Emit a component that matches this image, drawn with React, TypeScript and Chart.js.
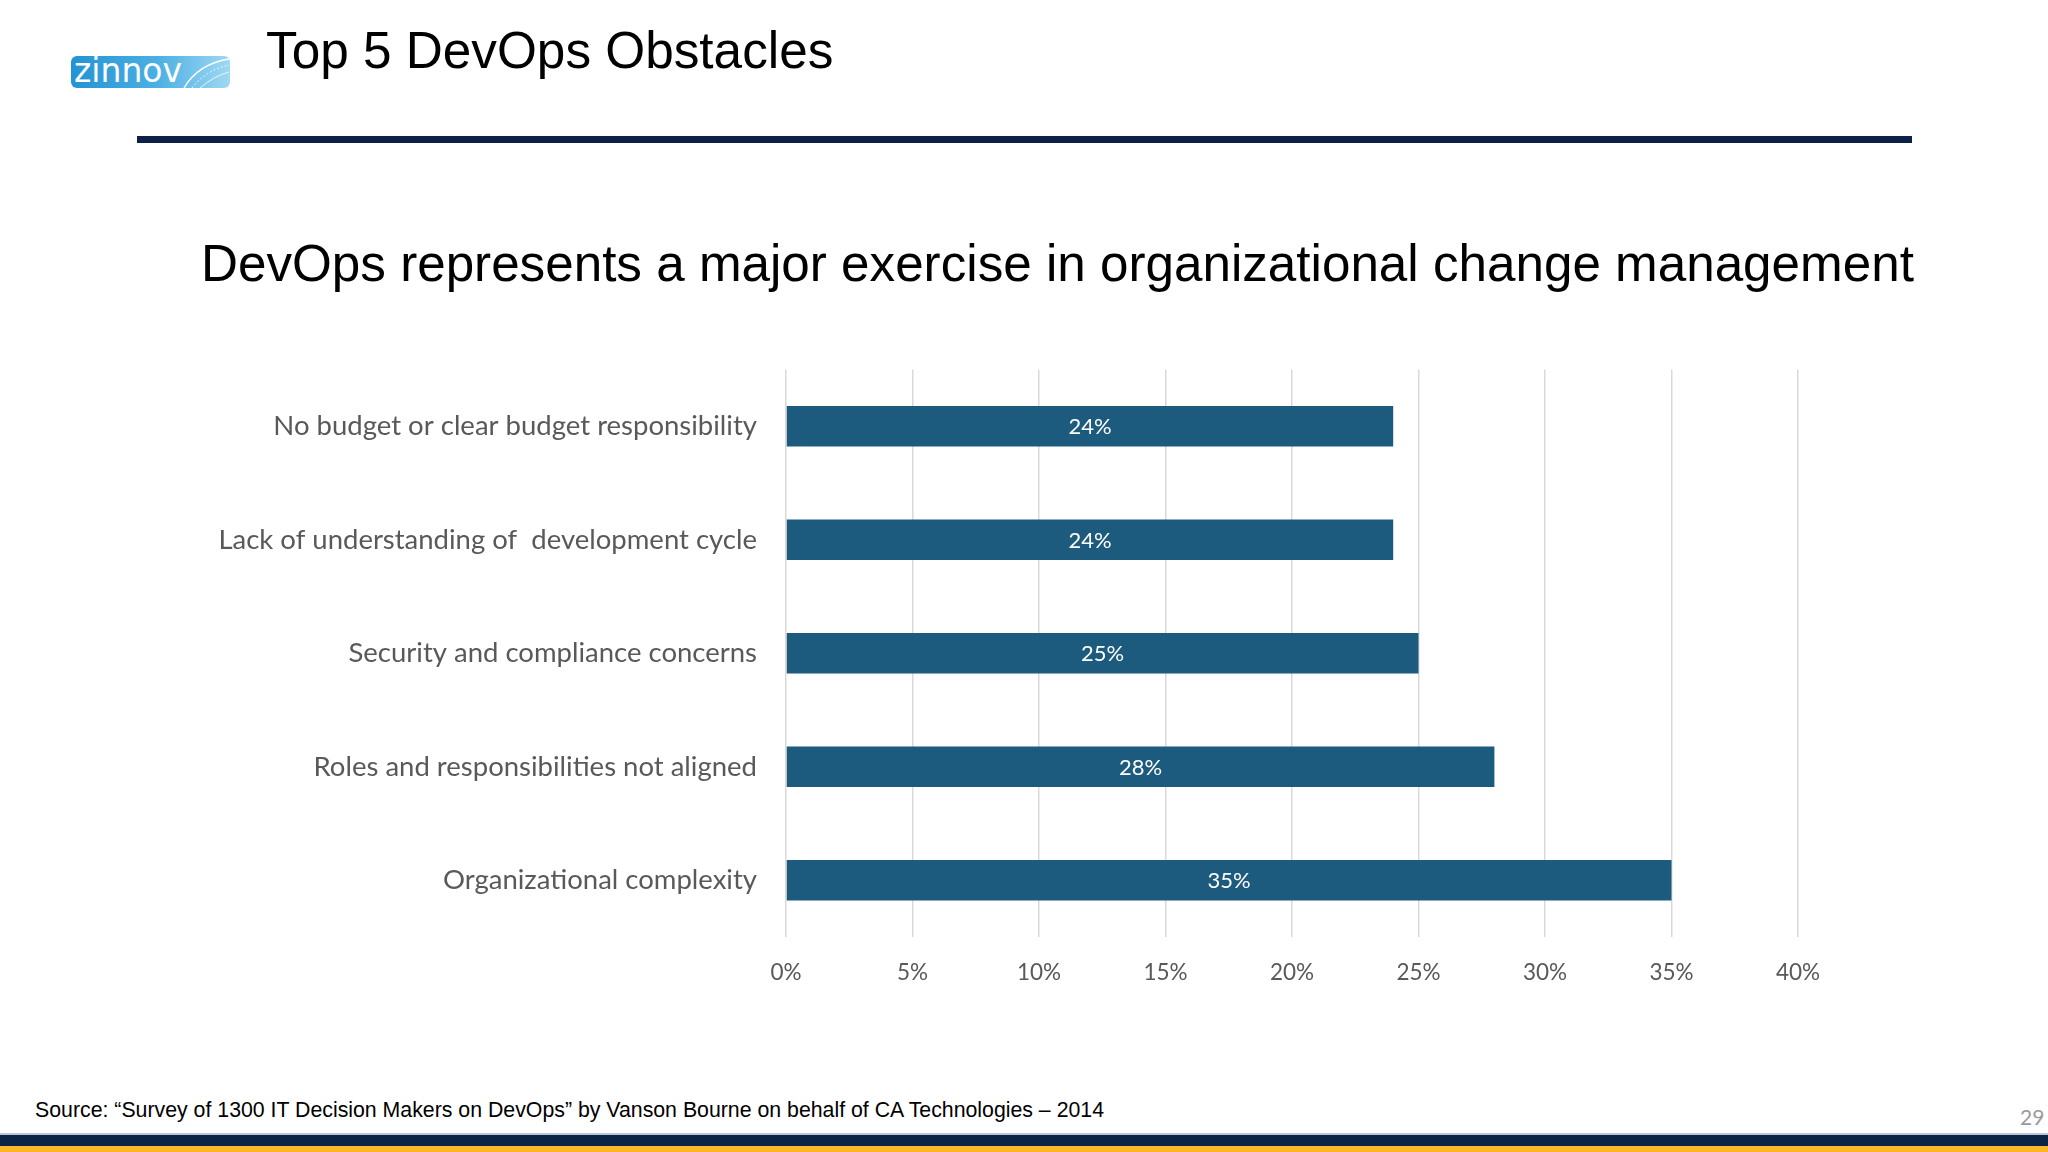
import React, { useEffect, useRef } from "react";
import { Chart, registerables } from "chart.js";

Chart.register(...registerables);

const categories: string[] = [
  "No budget or clear budget responsibility",
  "Lack of understanding of  development cycle",
  "Security and compliance concerns",
  "Roles and responsibilities not aligned",
  "Organizational complexity",
];
const values: number[] = [24, 24, 25, 28, 35];
const xTicks: number[] = [0, 5, 10, 15, 20, 25, 30, 35, 40];

const BAR_COLOR = "#1c5a7e";
const TEXT_GRAY = "#595959";
const LABEL_FONT = "Lato, 'Open Sans', sans-serif";

const dataLabelPlugin = {
  id: "barLabels",
  afterDatasetsDraw(chart: any) {
    const ctx = chart.ctx;
    const meta = chart.getDatasetMeta(0);
    ctx.save();
    ctx.fillStyle = "#ffffff";
    ctx.font = `22px ${LABEL_FONT}`;
    ctx.textAlign = "center";
    ctx.textBaseline = "middle";
    meta.data.forEach((bar: any, i: number) => {
      const p = bar.getProps(["x", "y", "base"], true);
      ctx.fillText(values[i] + "%", (p.x + p.base) / 2, p.y + 1);
    });
    ctx.restore();
  },
};

// Chart.js adds the y tick padding (29) plus half a label height (~16.5)
// above the first category, so the canvas starts that far above the plot top.
const CANVAS_TOP = 324;
const CANVAS_BOTTOM = 1020;

function BarChart() {
  const ref = useRef<HTMLCanvasElement | null>(null);
  useEffect(() => {
    if (!ref.current) return;
    const chart = new Chart(ref.current, {
      type: "bar",
      data: {
        labels: categories,
        datasets: [
          {
            data: values,
            backgroundColor: BAR_COLOR,
            borderWidth: 0,
            barPercentage: 0.355,
            categoryPercentage: 1,
          },
        ],
      },
      options: {
        indexAxis: "y",
        animation: false,
        responsive: true,
        maintainAspectRatio: false,
        devicePixelRatio: 1,
        layout: { padding: { top: 0, right: 250, bottom: 0, left: 0 } },
        plugins: {
          legend: { display: false },
          tooltip: { enabled: false },
          title: { display: false },
        },
        scales: {
          x: {
            min: 0,
            max: 40,
            afterBuildTicks: (scale: any) => {
              scale.ticks = xTicks.map((v) => ({ value: v }));
            },
            afterFit: (scale: any) => {
              scale.height = 83;
            },
            grid: { color: "#d9d9d9", lineWidth: 1.5, drawTicks: false },
            border: { display: false },
            ticks: {
              padding: 22,
              color: TEXT_GRAY,
              font: { family: LABEL_FONT, size: 22.5 },
              callback: (v: any) => v + "%",
            },
          },
          y: {
            afterFit: (scale: any) => {
              scale.width = 786;
            },
            grid: { display: false, drawTicks: false },
            border: { display: false },
            ticks: {
              padding: 29,
              color: TEXT_GRAY,
              font: { family: LABEL_FONT, size: 27.5 },
            },
          },
        },
      },
      plugins: [dataLabelPlugin],
    });
    return () => chart.destroy();
  }, []);
  return (
    <div style={{ position: "absolute", left: 0, top: CANVAS_TOP, width: 2048, height: CANVAS_BOTTOM - CANVAS_TOP }}>
      <canvas ref={ref} />
    </div>
  );
}

function Logo() {
  return (
    <svg width={160} height={33} style={{ position: "absolute", left: 71, top: 56 }}>
      <defs>
        <linearGradient id="lg" x1="0" y1="0" x2="1" y2="0">
          <stop offset="0" stopColor="#2393d3" />
          <stop offset="0.55" stopColor="#4cb0e3" />
          <stop offset="1" stopColor="#9fd8f3" />
        </linearGradient>
      </defs>
      <rect x={0} y={0} width={159} height={32} rx={6} fill="url(#lg)" />
      <text x={3} y={26} fill="#ffffff" fontFamily="'DejaVu Sans', Verdana, sans-serif" fontSize={33}>
        zinnov
      </text>
      <path d="M113 32 Q127 8 158 3" stroke="#ffffff" strokeWidth={1.3} fill="none" />
      <path d="M121 32 Q135 14 158 9" stroke="#ffffff" strokeWidth={0.8} fill="none" strokeDasharray="2 2" />
      <path d="M129 32 Q143 20 158 16" stroke="#ffffff" strokeWidth={0.8} fill="none" />
    </svg>
  );
}

export default function App() {
  useEffect(() => {
    document.body.style.margin = "0";
  }, []);
  return (
    <div
      style={{
        position: "fixed",
        left: 0,
        top: 0,
        width: 2048,
        height: 1152,
        background: "#ffffff",
        overflow: "hidden",
        fontFamily: "'Liberation Sans', Arial, sans-serif",
      }}
    >
      <Logo />
      <div style={{ position: "absolute", left: 266, top: 25, fontSize: 51.3, lineHeight: 1, color: "#000", whiteSpace: "nowrap" }}>
        Top 5 DevOps Obstacles
      </div>
      <div style={{ position: "absolute", left: 137, top: 136, width: 1775, height: 7, background: "#0c2145" }} />
      <div style={{ position: "absolute", left: 201, top: 238, fontSize: 51.2, lineHeight: 1, color: "#000", whiteSpace: "nowrap" }}>
        DevOps represents a major exercise in organizational change management
      </div>
      <BarChart />
      <div style={{ position: "absolute", left: 35, top: 1100, fontSize: 21.3, lineHeight: 1, color: "#000", whiteSpace: "nowrap" }}>
        Source: “Survey of 1300 IT Decision Makers on DevOps” by Vanson Bourne on behalf of CA Technologies – 2014
      </div>
      <div style={{ position: "absolute", left: 2020, top: 1106, fontSize: 21, lineHeight: 1, color: "#9a9a9a", fontFamily: LABEL_FONT }}>
        29
      </div>
      <div style={{ position: "absolute", left: 0, top: 1133, width: 2048, height: 2, background: "#b9c6da" }} />
      <div style={{ position: "absolute", left: 0, top: 1135, width: 2048, height: 11, background: "#0b2347" }} />
      <div style={{ position: "absolute", left: 0, top: 1146, width: 2048, height: 6, background: "#fbb625" }} />
    </div>
  );
}
